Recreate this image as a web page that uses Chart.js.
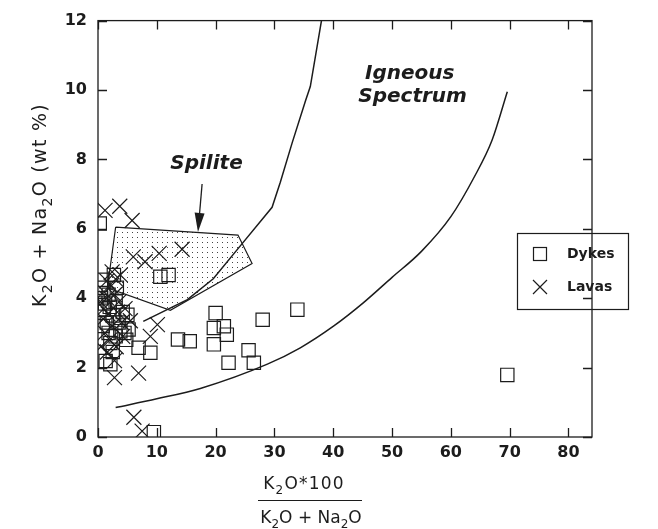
<!DOCTYPE html>
<html lang="en">
<head>
<meta charset="UTF-8">
<title>Spilite vs igneous spectrum</title>
<script src="https://cdn.jsdelivr.net/npm/chart.js"></script>
<style>
  html, body { margin: 0; padding: 0; background: #fff; }
  #wrap { width: 658px; height: 529px; }
</style>
</head>
<body>
<div id="wrap"><canvas id="grafico"></canvas></div>
<script>
// axis ticks
const xTicks = [0, 10, 20, 30, 40, 50, 60, 70, 80];
const yTicks = [0, 2, 4, 6, 8, 10, 12];

// [K2O*100/(K2O+Na2O), K2O+Na2O wt %]
const dykes = [
  [0.3, 6.15], [0.7, 4.53], [2.7, 4.67], [10.6, 4.62], [12.0, 4.67],
  [0.5, 4.3], [1.8, 4.1], [3.2, 4.3], [0.5, 4.0], [1.2, 3.85], [2.0, 3.75],
  [3.0, 3.9], [1.0, 3.67], [4.2, 3.6], [5.0, 3.52], [2.5, 3.5], [1.5, 3.3],
  [3.5, 3.3], [0.8, 3.2], [5.2, 3.1], [3.8, 3.05], [1.8, 3.0], [3.0, 2.9],
  [4.5, 3.0], [4.8, 2.8], [2.1, 2.71], [6.9, 2.57], [2.5, 2.45], [8.9, 2.43],
  [1.3, 2.19], [2.1, 2.1], [9.5, 0.14], [13.6, 2.81], [15.6, 2.76],
  [20.0, 3.57], [19.7, 3.14], [21.4, 3.19], [21.9, 2.95], [19.7, 2.67],
  [22.2, 2.14], [25.6, 2.5], [26.5, 2.14], [28.0, 3.38], [33.9, 3.67],
  [69.6, 1.79]
];
const lavas = [
  [1.2, 6.53], [3.7, 6.65], [5.8, 6.24], [6.0, 5.19], [8.0, 5.05],
  [10.4, 5.29], [14.3, 5.41], [2.4, 4.76], [3.8, 4.67], [1.5, 4.5],
  [3.0, 4.55], [2.2, 4.35], [1.0, 4.19], [2.8, 4.1], [1.5, 4.0], [0.4, 3.9],
  [3.6, 3.9], [1.0, 3.7], [4.6, 3.7], [3.3, 3.6], [1.7, 3.55], [0.9, 3.4],
  [4.0, 3.3], [5.5, 3.35], [2.4, 3.2], [10.1, 3.24], [1.2, 3.0], [4.2, 2.9],
  [8.9, 2.9], [2.0, 2.8], [3.1, 2.6], [0.5, 2.6], [1.6, 2.45], [2.8, 2.2],
  [2.8, 1.71], [6.9, 1.84], [6.1, 0.57], [7.5, 0.17]
];

// igneous spectrum limits
const spectrumLeft = [
  [7.7, 3.33], [15.2, 3.96], [19.6, 4.56], [24.3, 5.53], [29.6, 6.62],
  [31.0, 7.34], [33.0, 8.47], [35.3, 9.7], [36.1, 10.1], [38.0, 12.0]
];
const spectrumRight = [
  [3.0, 0.85], [10.0, 1.1], [17.4, 1.4], [28.8, 2.1], [34.4, 2.57],
  [40.1, 3.2], [45.0, 3.85], [50.0, 4.6], [55.0, 5.35], [60.0, 6.35],
  [64.0, 7.5], [67.0, 8.55], [69.6, 9.95]
];

// spilite field (closed)
const spiliteField = [
  [3.0, 6.05], [23.8, 5.82], [26.2, 5.0], [12.3, 3.65], [1.6, 4.3], [3.0, 6.05]
];
const spiliteArrow = [[17.7, 7.29], [17.0, 5.91]];

const FAMILY = '"DejaVu Sans", sans-serif';
const INK = '#1c1c1c';
const TICK = 9;

const pts = arr => arr.map(([x, y]) => ({ x, y }));

// dotted fill for the spilite field
function stipple() {
  const c = document.createElement('canvas');
  c.width = 5; c.height = 5;
  const g = c.getContext('2d');
  g.fillStyle = '#444';
  g.fillRect(2, 2, 1, 1);
  return g.createPattern(c, 'repeat');
}

// text with subscripts: parts = [[text, isSub], ...]
function richText(ctx, parts, x, y, size, align, spacing) {
  const base = size + 'px ' + FAMILY;
  const sub = Math.round(size * 0.72) + 'px ' + FAMILY;
  ctx.letterSpacing = (spacing || 0) + 'px';
  let w = 0;
  parts.forEach(([t, s]) => { ctx.font = s ? sub : base; w += ctx.measureText(t).width; });
  let cx = align === 'center' ? x - w / 2 : x;
  ctx.textAlign = 'left';
  ctx.textBaseline = 'alphabetic';
  parts.forEach(([t, s]) => {
    ctx.font = s ? sub : base;
    ctx.fillText(t, cx, s ? y + size * 0.3 : y);
    cx += ctx.measureText(t).width;
  });
  ctx.letterSpacing = '0px';
  return w;
}

const decoracao = {
  id: 'decoracao',
  afterDraw(chart) {
    const { ctx, chartArea: a, scales: { x, y } } = chart;
    ctx.save();
    ctx.strokeStyle = INK;
    ctx.fillStyle = INK;
    ctx.lineWidth = 1.3;
    ctx.strokeRect(a.left, a.top, a.right - a.left, a.bottom - a.top);

    // inward tick marks on all four sides
    ctx.beginPath();
    xTicks.forEach(v => {
      const px = Math.round(x.getPixelForValue(v)) + 0.5;
      ctx.moveTo(px, a.bottom); ctx.lineTo(px, a.bottom - TICK);
      ctx.moveTo(px, a.top); ctx.lineTo(px, a.top + TICK);
    });
    yTicks.forEach(v => {
      const py = Math.round(y.getPixelForValue(v)) + 0.5;
      ctx.moveTo(a.left, py); ctx.lineTo(a.left + TICK, py);
      ctx.moveTo(a.right, py); ctx.lineTo(a.right - TICK, py);
    });
    ctx.stroke();

    // arrow pointing at the spilite field
    const [t0, t1] = spiliteArrow;
    const ax = x.getPixelForValue(t0[0]), ay = y.getPixelForValue(t0[1]);
    const bx = x.getPixelForValue(t1[0]), by = y.getPixelForValue(t1[1]);
    const ang = Math.atan2(by - ay, bx - ax);
    ctx.lineWidth = 1.3;
    ctx.beginPath();
    ctx.moveTo(ax, ay);
    ctx.lineTo(bx - 14 * Math.cos(ang), by - 14 * Math.sin(ang));
    ctx.stroke();
    ctx.beginPath();
    ctx.moveTo(bx, by);
    ctx.lineTo(bx - 19 * Math.cos(ang) + 5 * Math.sin(ang), by - 19 * Math.sin(ang) - 5 * Math.cos(ang));
    ctx.lineTo(bx - 19 * Math.cos(ang) - 5 * Math.sin(ang), by - 19 * Math.sin(ang) + 5 * Math.cos(ang));
    ctx.closePath();
    ctx.fill();

    // field names
    ctx.font = 'italic bold 20px ' + FAMILY;
    ctx.textAlign = 'center';
    ctx.textBaseline = 'alphabetic';
    ctx.fillText('Spilite', x.getPixelForValue(18.45), y.getPixelForValue(7.71));
    ctx.fillText('Igneous', x.getPixelForValue(53.0), y.getPixelForValue(10.31));
    ctx.fillText('Spectrum', x.getPixelForValue(53.5), y.getPixelForValue(9.65));

    // legend box
    ctx.lineWidth = 1.2;
    ctx.strokeRect(517.5, 233.5, 111, 76);
    ctx.strokeRect(533.5, 247.5, 13, 13);
    ctx.beginPath();
    ctx.moveTo(533, 280); ctx.lineTo(547, 294);
    ctx.moveTo(547, 280); ctx.lineTo(533, 294);
    ctx.stroke();
    ctx.font = 'bold 14px ' + FAMILY;
    ctx.textAlign = 'left';
    ctx.textBaseline = 'middle';
    ctx.fillText('Dykes', 567, 254);
    ctx.fillText('Lavas', 567, 287);

    // y axis title
    ctx.save();
    ctx.translate(46, 205);
    ctx.rotate(-Math.PI / 2);
    richText(ctx, [['K', 0], ['2', 1], ['O + Na', 0], ['2', 1], ['O (wt %)', 0]], 0, 0, 19, 'center', 1.3);
    ctx.restore();

    // x axis title as a fraction
    richText(ctx, [['K', 0], ['2', 1], ['O*100', 0]], 304, 489, 17, 'center', 1.2);
    ctx.lineWidth = 1.2;
    ctx.beginPath();
    ctx.moveTo(258, 500.5); ctx.lineTo(362, 500.5);
    ctx.stroke();
    richText(ctx, [['K', 0], ['2', 1], ['O + Na', 0], ['2', 1], ['O', 0]], 311, 523, 17, 'center');
    ctx.restore();
  }
};

const line = (data, extra) => Object.assign({
  data: pts(data), showLine: true, pointRadius: 0, borderColor: INK,
  borderWidth: 1.5, backgroundColor: 'transparent', fill: false, tension: 0
}, extra);

new Chart(document.getElementById('grafico'), {
  type: 'scatter',
  data: {
    datasets: [
      line(spiliteField, { order: 4, borderWidth: 1.2, backgroundColor: stipple(), fill: 'shape' }),
      line(spectrumLeft, { order: 3 }),
      line(spectrumRight, { order: 3, cubicInterpolationMode: 'monotone' }),
      {
        label: 'Dykes', order: 2, data: pts(dykes), pointStyle: 'rect', pointRadius: 9.4,
        borderColor: INK, borderWidth: 1.2, backgroundColor: 'transparent'
      },
      {
        label: 'Lavas', order: 1, data: pts(lavas), pointStyle: 'crossRot', pointRadius: 10.6,
        borderColor: INK, borderWidth: 1.2, backgroundColor: 'transparent'
      }
    ]
  },
  options: {
    responsive: true,
    maintainAspectRatio: false,
    animation: false,
    events: [],
    layout: { padding: { top: 17, right: 66, left: 0, bottom: 0 } },
    plugins: { legend: { display: false }, tooltip: { enabled: false } },
    scales: {
      x: {
        type: 'linear', min: 0, max: 84,
        afterFit: s => { s.height = 92; },
        afterBuildTicks: s => { s.ticks = xTicks.map(v => ({ value: v })); },
        grid: { display: false, drawTicks: false },
        border: { display: false },
        ticks: { color: INK, padding: 6, maxRotation: 0, font: { family: FAMILY, size: 16, weight: 'bold' } }
      },
      y: {
        type: 'linear', min: 0, max: 12,
        afterFit: s => { s.width = 98; },
        afterBuildTicks: s => { s.ticks = yTicks.map(v => ({ value: v })); },
        grid: { display: false, drawTicks: false },
        border: { display: false },
        ticks: { color: INK, padding: 11, font: { family: FAMILY, size: 16, weight: 'bold' } }
      }
    }
  },
  plugins: [decoracao]
});
</script>
</body>
</html>
